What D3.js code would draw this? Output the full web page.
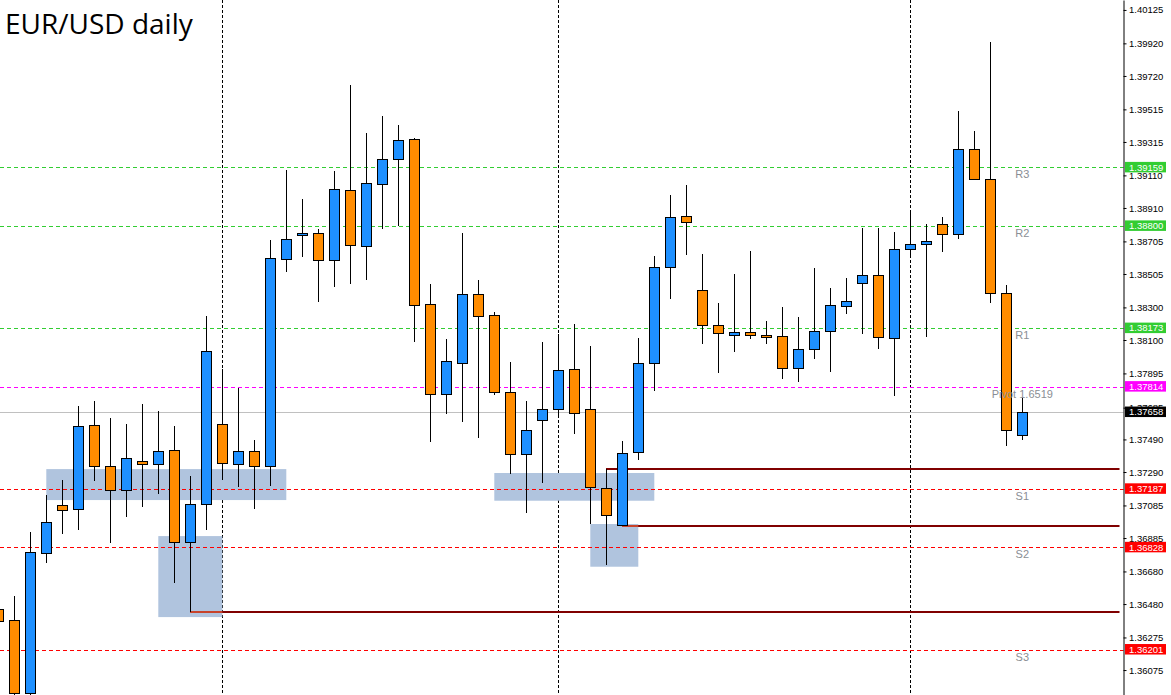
<!DOCTYPE html>
<html>
<head>
<meta charset="utf-8">
<script src="https://cdn.jsdelivr.net/npm/d3@7"></script>
<style>
  body { margin: 0; background: #fff; }
  svg { display: block; }
</style>
</head>
<body>
<svg id="chart"></svg>
<script>
// daily candles, oldest first (first one is cut by the left edge)
const opens  = [1.36447,1.36380,1.35932,1.36791,1.37086,1.37061,1.37577,1.37325,1.37178,1.37356,
                1.37337,1.37423,1.36859,1.37092,1.37583,1.37337,1.37417,1.37325,1.38595,1.38742,
                1.38755,1.38589,1.39019,1.38675,1.39055,1.39209,1.39332,1.38319,1.37767,1.37957,
                1.38380,1.38252,1.37779,1.37399,1.37607,1.37675,1.37920,1.37675,1.37190,1.36963,
                1.37411,1.37957,1.38546,1.38859,1.38405,1.38190,1.38129,1.38147,1.38129,1.38123,
                1.37926,1.38043,1.38153,1.38307,1.38448,1.38497,1.38110,1.38657,1.38687,1.38810,
                1.38749,1.39270,1.39086,1.38387,1.37515];
const highs  = [1.36474,1.36529,1.36920,1.37147,1.37241,1.37695,1.37726,1.37621,1.37585,1.37707,
                1.37664,1.37572,1.37265,1.38247,1.37920,1.37807,1.37485,1.38712,1.39143,1.38965,
                1.38781,1.39137,1.39665,1.39370,1.39475,1.39419,1.39338,1.38442,1.38104,1.38755,
                1.38466,1.38270,1.37963,1.37724,1.38086,1.38137,1.38198,1.38061,1.37307,1.37478,
                1.38110,1.38614,1.38990,1.39051,1.38626,1.38325,1.38503,1.38644,1.38215,1.38301,
                1.38239,1.38540,1.38417,1.38479,1.38785,1.38785,1.38761,1.38884,1.38810,1.38853,
                1.39505,1.39383,1.39927,1.38436,1.37742];
const lows   = [1.36351,1.35903,1.35903,1.36730,1.36911,1.36936,1.37237,1.36856,1.37016,1.37077,
                1.37157,1.36611,1.36433,1.36936,1.37241,1.37200,1.37065,1.37206,1.38519,1.38611,
                1.38335,1.38427,1.38445,1.38470,1.38783,1.38801,1.38090,1.37476,1.37648,1.37599,
                1.37500,1.37761,1.37280,1.37040,1.37224,1.37621,1.37525,1.36971,1.36721,1.36959,
                1.37365,1.37789,1.38353,1.38623,1.38077,1.37899,1.38028,1.38108,1.38077,1.37862,
                1.37844,1.37985,1.37905,1.38261,1.38139,1.38047,1.37758,1.38615,1.38117,1.38638,
                1.38718,1.39086,1.38325,1.37451,1.37488];
const closes = [1.36374,1.35932,1.36797,1.36981,1.37055,1.37570,1.37325,1.37178,1.37374,1.37337,
                1.37417,1.36859,1.37092,1.38031,1.37343,1.37417,1.37325,1.38601,1.38718,1.38755,
                1.38589,1.39025,1.38681,1.39062,1.39209,1.39325,1.38313,1.37767,1.37969,1.38380,
                1.38249,1.37779,1.37399,1.37546,1.37675,1.37914,1.37650,1.37196,1.37024,1.37405,
                1.37957,1.38546,1.38853,1.38822,1.38190,1.38141,1.38147,1.38129,1.38117,1.37926,
                1.38043,1.38153,1.38313,1.38337,1.38497,1.38117,1.38657,1.38687,1.38706,1.38749,
                1.39270,1.39086,1.38387,1.37546,1.37658];

// pivot levels
const levelNames  = ["R3", "R2", "R1", "Pivot  1.6519", "S1", "S2", "S3"];
const levelValues = [1.39159, 1.38800, 1.38173, 1.37814, 1.37187, 1.36828, 1.36201];
const levelKinds  = ["r", "r", "r", "p", "s", "s", "s"];
const lastPrice = 1.37658;

// price axis ticks
const tickValues = [1.40125,1.39920,1.39720,1.39515,1.39315,1.39110,1.38910,1.38705,1.38505,1.38300,
                    1.38100,1.37895,1.37685,1.37490,1.37290,1.37085,1.36885,1.36680,1.36480,1.36275,1.36075];

// month separators (bar index)
const separators = [14, 35, 57];

// shaded zones: bar range and price range
const zoneFrom = [3, 10, 31, 37];
const zoneTo   = [18, 14, 41, 40];
const zoneHigh = [1.37308, 1.36897, 1.37284, 1.36971];
const zoneLow  = [1.37118, 1.36400, 1.37114, 1.36709];

// horizontal rays from a bar to the right edge
const rayFrom  = [12, 38, 39];
const rayPrice = [1.36433, 1.37307, 1.36959];

const W = 1171, H = 695;
const axisX = 1123.5;

const colors = { up: "#1e90ff", down: "#ff8c00", r: "#32cd32", p: "#ff00ff", s: "#ff0000" };

const svg = d3.select("#chart").attr("width", W).attr("height", H);

const x = d3.scaleLinear().domain([0, 64]).range([-1.7, 1022.3]);
const y = d3.scaleLinear().domain([1.35922, 1.40186]).range([H, 0]);
const px = v => Math.round(x(v));
const py = v => Math.round(y(v)) + 0.5;

const candles = opens.map((o, i) => ({ i, o, h: highs[i], l: lows[i], c: closes[i] }));
const zones = zoneFrom.map((f, k) => ({ from: f, to: zoneTo[k], hi: zoneHigh[k], lo: zoneLow[k] }));
const rays = rayFrom.map((f, k) => ({ from: f, price: rayPrice[k] }));
const levels = levelValues.map((v, k) => ({ v, name: levelNames[k], kind: levelKinds[k] }));

// separators
svg.append("g").selectAll("line").data(separators).join("line")
  .attr("x1", d => px(d) + 0.5).attr("x2", d => px(d) + 0.5)
  .attr("y1", 0).attr("y2", H)
  .attr("stroke", "#000").attr("stroke-dasharray", "3,2");

// zones
svg.append("g").selectAll("rect").data(zones).join("rect")
  .attr("x", d => x(d.from)).attr("width", d => x(d.to) - x(d.from))
  .attr("y", d => y(d.hi)).attr("height", d => y(d.lo) - y(d.hi))
  .attr("fill", "#b0c4de");

// pivot level lines
svg.append("g").selectAll("line").data(levels).join("line")
  .attr("x1", 0).attr("x2", axisX)
  .attr("y1", d => py(d.v)).attr("y2", d => py(d.v))
  .attr("stroke", d => colors[d.kind]).attr("stroke-dasharray", "4,3");

// last price line
svg.append("line")
  .attr("x1", 0).attr("x2", axisX)
  .attr("y1", py(lastPrice)).attr("y2", py(lastPrice))
  .attr("stroke", "#c0c0c0");

// rays
const rayG = svg.append("g");
rayG.selectAll("line").data(rays).join("line")
  .attr("x1", d => px(d.from)).attr("x2", axisX - 4)
  .attr("y1", d => Math.round(y(d.price))).attr("y2", d => Math.round(y(d.price)))
  .attr("stroke", "#800000").attr("stroke-width", 2);
// part of a ray that runs inside a zone looks lighter
rays.forEach(r => {
  zones.forEach(z => {
    if (r.price >= z.lo && r.price <= z.hi && z.to > r.from) {
      rayG.append("line")
        .attr("x1", Math.max(px(r.from), x(z.from))).attr("x2", x(z.to))
        .attr("y1", Math.round(y(r.price))).attr("y2", Math.round(y(r.price)))
        .attr("stroke", "#c8432b").attr("stroke-width", 2);
    }
  });
});

// candles
const cg = svg.append("g");
cg.selectAll("line").data(candles).join("line")
  .attr("x1", d => px(d.i) + 0.5).attr("x2", d => px(d.i) + 0.5)
  .attr("y1", d => Math.round(y(d.h))).attr("y2", d => Math.round(y(d.l)))
  .attr("stroke", "#000");
cg.selectAll("rect").data(candles).join("rect")
  .attr("x", d => px(d.i) - 4.5).attr("width", 10)
  .attr("y", d => py(Math.max(d.o, d.c)))
  .attr("height", d => Math.max(1, py(Math.min(d.o, d.c)) - py(Math.max(d.o, d.c))))
  .attr("fill", d => d.c >= d.o ? colors.up : colors.down)
  .attr("stroke", "#000");

// level names
svg.append("g").selectAll("text").data(levels).join("text")
  .attr("x", x(64)).attr("y", d => y(d.v) + 11)
  .attr("text-anchor", "middle")
  .attr("font-family", "Liberation Sans, Arial, sans-serif").attr("font-size", 11)
  .attr("fill", "#8a8e94")
  .text(d => d.name);

// price axis
const axis = svg.append("g")
  .attr("transform", `translate(${axisX},0)`)
  .call(d3.axisRight(y).tickValues(tickValues).tickSize(3).tickSizeOuter(0)
    .tickPadding(2.5).tickFormat(d3.format(".5f")));
axis.select(".domain").attr("stroke", "#000");
axis.selectAll("text")
  .attr("font-family", "Liberation Sans, Arial, sans-serif").attr("font-size", 9.5)
  .attr("fill", "#000");

// price tags on the axis
const tags = levels.map(d => ({ v: d.v, fill: colors[d.kind] }));
tags.push({ v: lastPrice, fill: "#000" });
const tg = svg.append("g");
tg.selectAll("rect").data(tags).join("rect")
  .attr("x", axisX + 1.5).attr("width", 41)
  .attr("y", d => y(d.v) - 5.5).attr("height", 10.5)
  .attr("fill", d => d.fill);
tg.selectAll("text").data(tags).join("text")
  .attr("x", axisX + 5.5).attr("y", d => y(d.v)).attr("dy", "0.35em")
  .attr("font-family", "Liberation Sans, Arial, sans-serif").attr("font-size", 9.5)
  .attr("fill", "#fff")
  .text(d => d3.format(".5f")(d.v));

// title
svg.append("text")
  .attr("x", 5).attr("y", 34)
  .attr("font-family", "Open Sans, sans-serif").attr("font-size", 28)
  .attr("fill", "#000")
  .text("EUR/USD daily");
</script>
</body>
</html>
